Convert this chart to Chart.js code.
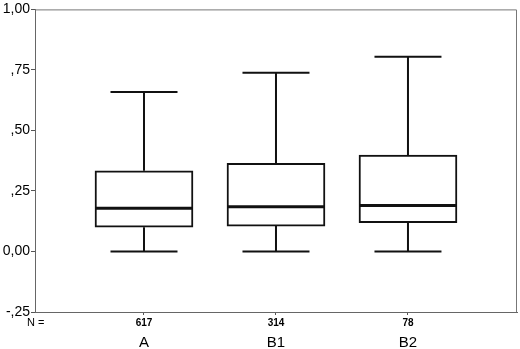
<!DOCTYPE html>
<html>
<head>
<meta charset="utf-8">
<script src="https://cdn.jsdelivr.net/npm/chart.js@4"></script>
<style>
  body { margin: 0; background: #fff; }
  canvas { display: block; }
</style>
</head>
<body>
<canvas id="boxes" width="520" height="349"></canvas>
<script>
const categories = ['A', 'B1', 'B2'];
const counts = [617, 314, 78];
const mins = [0.0, 0.0, 0.0];
const q1s = [0.10, 0.105, 0.119];
const medians = [0.179, 0.185, 0.19];
const q3s = [0.333, 0.364, 0.398];
const maxs = [0.659, 0.738, 0.804];
const yTicks = [-0.25, 0, 0.25, 0.5, 0.75, 1];

const positions = categories.map((c, i) => i + 1);
const font = "'Liberation Sans', Arial, sans-serif";

function fmt(v) {
    let s = Math.abs(v).toFixed(2).replace('.', ',');
    if (Math.abs(v) < 1 && v !== 0) s = s.substring(1);
    return (v < 0 ? '-' : '') + s;
}

const whiskers = {
    id: 'whiskers',
    afterDatasetsDraw(chart) {
        const ctx = chart.ctx;
        const x = chart.scales.x, y = chart.scales.y;
        const capHalf = 33.5, boxHalf = 48;
        ctx.save();
        ctx.strokeStyle = '#111';
        positions.forEach((p, i) => {
            const cx = x.getPixelForValue(p);
            ctx.lineWidth = 2;
            ctx.beginPath();
            ctx.moveTo(cx, y.getPixelForValue(q3s[i]));
            ctx.lineTo(cx, y.getPixelForValue(maxs[i]));
            ctx.moveTo(cx - capHalf, y.getPixelForValue(maxs[i]));
            ctx.lineTo(cx + capHalf, y.getPixelForValue(maxs[i]));
            ctx.moveTo(cx, y.getPixelForValue(q1s[i]));
            ctx.lineTo(cx, y.getPixelForValue(mins[i]));
            ctx.moveTo(cx - capHalf, y.getPixelForValue(mins[i]));
            ctx.lineTo(cx + capHalf, y.getPixelForValue(mins[i]));
            ctx.stroke();
            ctx.lineWidth = 3;
            ctx.beginPath();
            ctx.moveTo(cx - boxHalf, y.getPixelForValue(medians[i]));
            ctx.lineTo(cx + boxHalf, y.getPixelForValue(medians[i]));
            ctx.stroke();
        });
        // frame top and right
        const a = chart.chartArea;
        ctx.strokeStyle = '#777';
        ctx.lineWidth = 1;
        ctx.beginPath();
        ctx.moveTo(a.left, a.top + 0.5);
        ctx.lineTo(a.right - 0.5, a.top + 0.5);
        ctx.lineTo(a.right - 0.5, a.bottom);
        ctx.stroke();
        // N = label
        ctx.fillStyle = '#000';
        ctx.font = '11px ' + font;
        ctx.textAlign = 'left';
        ctx.textBaseline = 'middle';
        ctx.fillText('N =', 27, 323);
        ctx.restore();
    }
};

const ctx = document.getElementById('boxes').getContext('2d');

new Chart(ctx, {
    type: 'bar',
    data: {
        datasets: [{
            data: positions.map((p, i) => ({ x: p, y: [q1s[i], q3s[i]] })),
            backgroundColor: '#fff',
            borderColor: '#111',
            borderWidth: 2,
            borderSkipped: false,
            barThickness: 98
        }]
    },
    options: {
        responsive: false,
        animation: false,
        layout: { padding: { top: 8, right: 3, left: 0, bottom: 0 } },
        scales: {
            x: {
                type: 'linear',
                min: 0.1742,
                max: 3.826,
                offset: false,
                weight: 0,
                afterBuildTicks: s => { s.ticks = positions.map(v => ({ value: v })); },
                afterFit: s => { s.height = 20; },
                grid: { offset: false, drawOnChartArea: false, drawTicks: true, tickLength: 3, color: '#555' },
                border: { display: true, color: '#666', width: 1 },
                ticks: {
                    padding: 2,
                    maxRotation: 0,
                    color: '#000',
                    font: { family: font, size: 10, weight: 'bold' },
                    callback: v => counts[positions.indexOf(v)]
                }
            },
            x2: {
                type: 'linear',
                position: 'bottom',
                min: 0.1742,
                max: 3.826,
                offset: false,
                weight: 1,
                afterBuildTicks: s => { s.ticks = positions.map(v => ({ value: v })); },
                afterFit: s => { s.height = 17; },
                grid: { display: false, drawTicks: false, offset: false },
                border: { display: false },
                ticks: {
                    padding: 2,
                    maxRotation: 0,
                    color: '#000',
                    font: { family: font, size: 15 },
                    callback: v => categories[positions.indexOf(v)]
                }
            },
            y: {
                min: -0.25,
                max: 1,
                afterBuildTicks: s => { s.ticks = yTicks.map(v => ({ value: v })); },
                afterFit: s => { s.width = 35; },
                grid: { drawOnChartArea: false, drawTicks: true, tickLength: 4, color: '#555' },
                border: { display: true, color: '#666', width: 1 },
                ticks: {
                    padding: 1,
                    color: '#000',
                    font: { family: font, size: 14 },
                    callback: v => fmt(v)
                }
            }
        },
        plugins: {
            legend: { display: false },
            tooltip: { enabled: false }
        }
    },
    plugins: [whiskers]
});
</script>
</body>
</html>
